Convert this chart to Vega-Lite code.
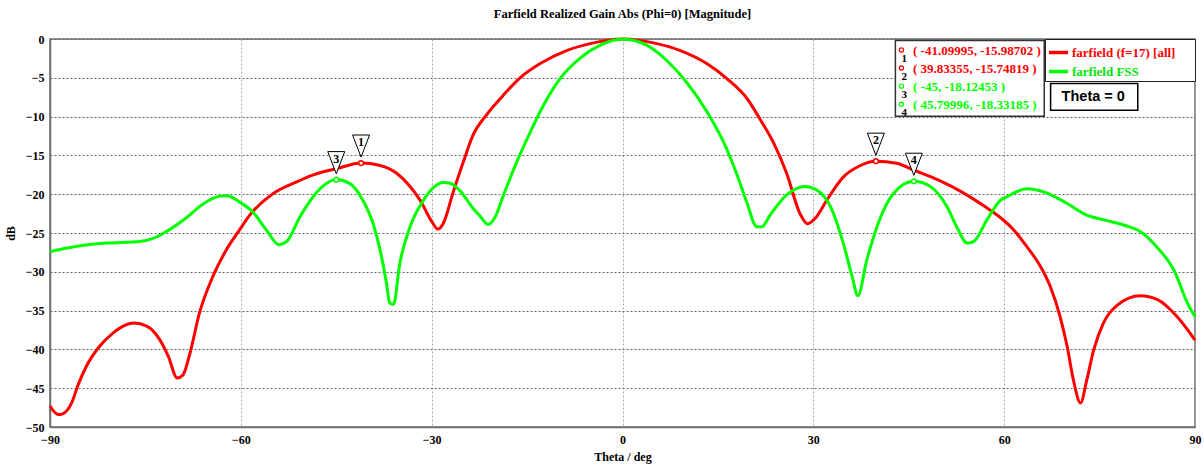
{
  "$schema": "https://vega.github.io/schema/vega-lite/v6.json",
  "width": 1145,
  "height": 388,
  "autosize": {"type": "none"},
  "padding": {"left": 50, "top": 39, "right": 9, "bottom": 39},
  "background": "white",
  "title": {
    "text": "Farfield Realized Gain Abs (Phi=0) [Magnitude]",
    "font": "Liberation Serif",
    "fontSize": 12.5,
    "fontWeight": "bold",
    "color": "#000000",
    "anchor": "middle",
    "frame": "group",
    "baseline": "bottom",
    "offset": 0
  },
  "config": {
    "view": {"stroke": "#6e6e6e", "strokeWidth": 1.5},
    "font": "Liberation Serif",
    "axisX": {"gridColor": "#aaaaaa", "gridDash": [2, 2], "gridWidth": 1},
    "axisY": {"gridColor": "#666666", "gridDash": [2, 2], "gridWidth": 1}
  },
  "datasets": {
    "curves": [
      {"series": "farfield (f=17) [all]", "theta": -90, "db": -47.3},
      {"series": "farfield (f=17) [all]", "theta": -88.7, "db": -48.4},
      {"series": "farfield (f=17) [all]", "theta": -88.0, "db": -48.3},
      {"series": "farfield (f=17) [all]", "theta": -86.6, "db": -46.9},
      {"series": "farfield (f=17) [all]", "theta": -85.6, "db": -44.6},
      {"series": "farfield (f=17) [all]", "theta": -84.3, "db": -42.2},
      {"series": "farfield (f=17) [all]", "theta": -82.2, "db": -39.6},
      {"series": "farfield (f=17) [all]", "theta": -80.1, "db": -37.9},
      {"series": "farfield (f=17) [all]", "theta": -78.5, "db": -37.0},
      {"series": "farfield (f=17) [all]", "theta": -76.8, "db": -36.6},
      {"series": "farfield (f=17) [all]", "theta": -74.8, "db": -37.0},
      {"series": "farfield (f=17) [all]", "theta": -72.7, "db": -38.8},
      {"series": "farfield (f=17) [all]", "theta": -71.4, "db": -40.9},
      {"series": "farfield (f=17) [all]", "theta": -70.0, "db": -43.7},
      {"series": "farfield (f=17) [all]", "theta": -69.1, "db": -43.3},
      {"series": "farfield (f=17) [all]", "theta": -68.0, "db": -40.5},
      {"series": "farfield (f=17) [all]", "theta": -66.5, "db": -35.3},
      {"series": "farfield (f=17) [all]", "theta": -64.4, "db": -30.6},
      {"series": "farfield (f=17) [all]", "theta": -62.3, "db": -27.2},
      {"series": "farfield (f=17) [all]", "theta": -60.2, "db": -24.6},
      {"series": "farfield (f=17) [all]", "theta": -58.6, "db": -22.7},
      {"series": "farfield (f=17) [all]", "theta": -54.9, "db": -19.9},
      {"series": "farfield (f=17) [all]", "theta": -51.2, "db": -18.4},
      {"series": "farfield (f=17) [all]", "theta": -48.6, "db": -17.5},
      {"series": "farfield (f=17) [all]", "theta": -44.9, "db": -16.7},
      {"series": "farfield (f=17) [all]", "theta": -41.1, "db": -15.99},
      {"series": "farfield (f=17) [all]", "theta": -38.1, "db": -16.3},
      {"series": "farfield (f=17) [all]", "theta": -35.5, "db": -17.3},
      {"series": "farfield (f=17) [all]", "theta": -33.4, "db": -19.0},
      {"series": "farfield (f=17) [all]", "theta": -31.8, "db": -20.8},
      {"series": "farfield (f=17) [all]", "theta": -30.0, "db": -23.5},
      {"series": "farfield (f=17) [all]", "theta": -29.0, "db": -24.5},
      {"series": "farfield (f=17) [all]", "theta": -28.2, "db": -23.8},
      {"series": "farfield (f=17) [all]", "theta": -26.6, "db": -19.7},
      {"series": "farfield (f=17) [all]", "theta": -25.0, "db": -15.8},
      {"series": "farfield (f=17) [all]", "theta": -23.5, "db": -12.4},
      {"series": "farfield (f=17) [all]", "theta": -21.4, "db": -9.8},
      {"series": "farfield (f=17) [all]", "theta": -18.8, "db": -7.3},
      {"series": "farfield (f=17) [all]", "theta": -16.1, "db": -5.0},
      {"series": "farfield (f=17) [all]", "theta": -13.0, "db": -3.2},
      {"series": "farfield (f=17) [all]", "theta": -8.8, "db": -1.5},
      {"series": "farfield (f=17) [all]", "theta": -5.1, "db": -0.6},
      {"series": "farfield (f=17) [all]", "theta": 0, "db": 0},
      {"series": "farfield (f=17) [all]", "theta": 5.4, "db": -0.6},
      {"series": "farfield (f=17) [all]", "theta": 9.1, "db": -1.5},
      {"series": "farfield (f=17) [all]", "theta": 13.3, "db": -3.2},
      {"series": "farfield (f=17) [all]", "theta": 16.4, "db": -5.1},
      {"series": "farfield (f=17) [all]", "theta": 19.6, "db": -7.7},
      {"series": "farfield (f=17) [all]", "theta": 21.6, "db": -10.3},
      {"series": "farfield (f=17) [all]", "theta": 23.7, "db": -13.3},
      {"series": "farfield (f=17) [all]", "theta": 25.8, "db": -17.3},
      {"series": "farfield (f=17) [all]", "theta": 27.9, "db": -22.5},
      {"series": "farfield (f=17) [all]", "theta": 29.1, "db": -23.8},
      {"series": "farfield (f=17) [all]", "theta": 30.3, "db": -23.1},
      {"series": "farfield (f=17) [all]", "theta": 32.1, "db": -20.8},
      {"series": "farfield (f=17) [all]", "theta": 34.7, "db": -17.8},
      {"series": "farfield (f=17) [all]", "theta": 37.4, "db": -16.3},
      {"series": "farfield (f=17) [all]", "theta": 39.8, "db": -15.75},
      {"series": "farfield (f=17) [all]", "theta": 43.1, "db": -16.0},
      {"series": "farfield (f=17) [all]", "theta": 45.8, "db": -16.9},
      {"series": "farfield (f=17) [all]", "theta": 49.7, "db": -18.2},
      {"series": "farfield (f=17) [all]", "theta": 53.5, "db": -19.8},
      {"series": "farfield (f=17) [all]", "theta": 56.8, "db": -21.5},
      {"series": "farfield (f=17) [all]", "theta": 59.4, "db": -23.0},
      {"series": "farfield (f=17) [all]", "theta": 61.5, "db": -24.6},
      {"series": "farfield (f=17) [all]", "theta": 63.6, "db": -26.8},
      {"series": "farfield (f=17) [all]", "theta": 65.7, "db": -29.3},
      {"series": "farfield (f=17) [all]", "theta": 67.3, "db": -32.0},
      {"series": "farfield (f=17) [all]", "theta": 68.8, "db": -35.8},
      {"series": "farfield (f=17) [all]", "theta": 69.9, "db": -39.6},
      {"series": "farfield (f=17) [all]", "theta": 70.9, "db": -44.0},
      {"series": "farfield (f=17) [all]", "theta": 72.0, "db": -46.9},
      {"series": "farfield (f=17) [all]", "theta": 73.0, "db": -43.9},
      {"series": "farfield (f=17) [all]", "theta": 74.1, "db": -40.0},
      {"series": "farfield (f=17) [all]", "theta": 75.6, "db": -36.6},
      {"series": "farfield (f=17) [all]", "theta": 77.8, "db": -34.3},
      {"series": "farfield (f=17) [all]", "theta": 81.4, "db": -33.1},
      {"series": "farfield (f=17) [all]", "theta": 84.1, "db": -33.6},
      {"series": "farfield (f=17) [all]", "theta": 87.2, "db": -35.8},
      {"series": "farfield (f=17) [all]", "theta": 90, "db": -38.8},
      {"series": "farfield FSS", "theta": -90, "db": -27.4},
      {"series": "farfield FSS", "theta": -86.4, "db": -26.8},
      {"series": "farfield FSS", "theta": -81.1, "db": -26.3},
      {"series": "farfield FSS", "theta": -75.9, "db": -26.1},
      {"series": "farfield FSS", "theta": -73.8, "db": -25.7},
      {"series": "farfield FSS", "theta": -71.7, "db": -24.8},
      {"series": "farfield FSS", "theta": -68.5, "db": -23.0},
      {"series": "farfield FSS", "theta": -66.0, "db": -21.3},
      {"series": "farfield FSS", "theta": -64.0, "db": -20.4},
      {"series": "farfield FSS", "theta": -62.5, "db": -20.2},
      {"series": "farfield FSS", "theta": -61.7, "db": -20.3},
      {"series": "farfield FSS", "theta": -60.2, "db": -21.0},
      {"series": "farfield FSS", "theta": -58.1, "db": -22.3},
      {"series": "farfield FSS", "theta": -56.0, "db": -24.6},
      {"series": "farfield FSS", "theta": -54.0, "db": -26.5},
      {"series": "farfield FSS", "theta": -52.8, "db": -26.1},
      {"series": "farfield FSS", "theta": -50.7, "db": -22.9},
      {"series": "farfield FSS", "theta": -48.6, "db": -20.3},
      {"series": "farfield FSS", "theta": -46.5, "db": -18.6},
      {"series": "farfield FSS", "theta": -45.0, "db": -18.12},
      {"series": "farfield FSS", "theta": -42.9, "db": -18.6},
      {"series": "farfield FSS", "theta": -40.8, "db": -20.8},
      {"series": "farfield FSS", "theta": -39.2, "db": -23.8},
      {"series": "farfield FSS", "theta": -38.1, "db": -27.2},
      {"series": "farfield FSS", "theta": -37.1, "db": -31.5},
      {"series": "farfield FSS", "theta": -36.6, "db": -34.0},
      {"series": "farfield FSS", "theta": -36.0, "db": -34.2},
      {"series": "farfield FSS", "theta": -35.0, "db": -28.9},
      {"series": "farfield FSS", "theta": -33.4, "db": -24.2},
      {"series": "farfield FSS", "theta": -31.3, "db": -20.8},
      {"series": "farfield FSS", "theta": -29.5, "db": -19.0},
      {"series": "farfield FSS", "theta": -28.2, "db": -18.5},
      {"series": "farfield FSS", "theta": -27.1, "db": -18.6},
      {"series": "farfield FSS", "theta": -25.5, "db": -19.6},
      {"series": "farfield FSS", "theta": -23.5, "db": -21.8},
      {"series": "farfield FSS", "theta": -22.4, "db": -22.8},
      {"series": "farfield FSS", "theta": -21.1, "db": -23.9},
      {"series": "farfield FSS", "theta": -20.0, "db": -22.9},
      {"series": "farfield FSS", "theta": -18.7, "db": -20.1},
      {"series": "farfield FSS", "theta": -16.6, "db": -15.8},
      {"series": "farfield FSS", "theta": -14.5, "db": -12.0},
      {"series": "farfield FSS", "theta": -12.4, "db": -8.5},
      {"series": "farfield FSS", "theta": -9.8, "db": -5.1},
      {"series": "farfield FSS", "theta": -6.7, "db": -2.5},
      {"series": "farfield FSS", "theta": -3.5, "db": -0.8},
      {"series": "farfield FSS", "theta": 0, "db": 0},
      {"series": "farfield FSS", "theta": 3.8, "db": -0.8},
      {"series": "farfield FSS", "theta": 7.0, "db": -2.8},
      {"series": "farfield FSS", "theta": 10.1, "db": -5.6},
      {"series": "farfield FSS", "theta": 13.3, "db": -9.4},
      {"series": "farfield FSS", "theta": 15.9, "db": -13.3},
      {"series": "farfield FSS", "theta": 18.0, "db": -17.5},
      {"series": "farfield FSS", "theta": 19.6, "db": -21.2},
      {"series": "farfield FSS", "theta": 21.1, "db": -24.2},
      {"series": "farfield FSS", "theta": 21.9, "db": -24.2},
      {"series": "farfield FSS", "theta": 23.2, "db": -22.7},
      {"series": "farfield FSS", "theta": 25.8, "db": -20.1},
      {"series": "farfield FSS", "theta": 28.7, "db": -19.0},
      {"series": "farfield FSS", "theta": 30.6, "db": -19.5},
      {"series": "farfield FSS", "theta": 32.7, "db": -21.6},
      {"series": "farfield FSS", "theta": 34.7, "db": -26.3},
      {"series": "farfield FSS", "theta": 36.1, "db": -30.6},
      {"series": "farfield FSS", "theta": 37.0, "db": -33.1},
      {"series": "farfield FSS", "theta": 38.4, "db": -28.5},
      {"series": "farfield FSS", "theta": 40.6, "db": -22.9},
      {"series": "farfield FSS", "theta": 42.6, "db": -19.9},
      {"series": "farfield FSS", "theta": 45.8, "db": -18.33},
      {"series": "farfield FSS", "theta": 48.4, "db": -19.0},
      {"series": "farfield FSS", "theta": 51.0, "db": -21.6},
      {"series": "farfield FSS", "theta": 52.6, "db": -24.3},
      {"series": "farfield FSS", "theta": 54.2, "db": -26.3},
      {"series": "farfield FSS", "theta": 55.2, "db": -26.1},
      {"series": "farfield FSS", "theta": 57.3, "db": -23.3},
      {"series": "farfield FSS", "theta": 59.4, "db": -20.8},
      {"series": "farfield FSS", "theta": 60.5, "db": -20.3},
      {"series": "farfield FSS", "theta": 63.6, "db": -19.3},
      {"series": "farfield FSS", "theta": 66.2, "db": -19.7},
      {"series": "farfield FSS", "theta": 69.9, "db": -21.2},
      {"series": "farfield FSS", "theta": 73.0, "db": -22.7},
      {"series": "farfield FSS", "theta": 76.2, "db": -23.4},
      {"series": "farfield FSS", "theta": 79.3, "db": -24.1},
      {"series": "farfield FSS", "theta": 81.4, "db": -24.8},
      {"series": "farfield FSS", "theta": 84.0, "db": -26.8},
      {"series": "farfield FSS", "theta": 86.7, "db": -29.8},
      {"series": "farfield FSS", "theta": 88.8, "db": -34.0},
      {"series": "farfield FSS", "theta": 90, "db": -35.8}
    ],
    "markers": [
      {"n": 1, "series": "farfield (f=17) [all]", "theta": -41.09995, "db": -15.98702, "label": "( -41.09995, -15.98702 )"},
      {"n": 2, "series": "farfield (f=17) [all]", "theta": 39.83355, "db": -15.74819, "label": "( 39.83355, -15.74819 )"},
      {"n": 3, "series": "farfield FSS", "theta": -45, "db": -18.12453, "label": "( -45, -18.12453 )"},
      {"n": 4, "series": "farfield FSS", "theta": 45.79996, "db": -18.33185, "label": "( 45.79996, -18.33185 )"}
    ]
  },
  "encoding": {
    "x": {
      "field": "theta", "type": "quantitative",
      "scale": {"domain": [-90, 90], "nice": false, "zero": false},
      "axis": {
        "values": [-90, -60, -30, 0, 30, 60, 90],
        "title": "Theta / deg",
        "titleFont": "Liberation Serif", "titleFontSize": 12, "titleFontWeight": "bold", "titleColor": "#000000",
        "titlePadding": 6,
        "labelFont": "Liberation Serif", "labelFontSize": 12, "labelFontWeight": "bold", "labelColor": "#000000",
        "labelPadding": 7, "ticks": false,
        "domainColor": "#6e6e6e", "domainWidth": 1.5,
        "labelFlush": false
      }
    },
    "y": {
      "field": "db", "type": "quantitative",
      "scale": {"domain": [-50, 0], "nice": false, "zero": false},
      "axis": {
        "values": [-50, -45, -40, -35, -30, -25, -20, -15, -10, -5, 0],
        "title": "dB",
        "titleFont": "Liberation Serif", "titleFontSize": 12, "titleFontWeight": "bold", "titleColor": "#000000",
        "titlePadding": 8,
        "labelFont": "Liberation Serif", "labelFontSize": 12, "labelFontWeight": "bold", "labelColor": "#000000",
        "labelPadding": 6, "ticks": false,
        "domainColor": "#6e6e6e", "domainWidth": 1.5
      }
    }
  },
  "layer": [
    {
      "data": {"name": "curves"},
      "mark": {"type": "line", "strokeWidth": 3, "interpolate": "monotone"},
      "encoding": {
        "color": {
          "field": "series", "type": "nominal",
          "scale": {"domain": ["farfield (f=17) [all]", "farfield FSS"], "range": ["#ff0000", "#00ff00"]},
          "legend": {
            "title": ".", "titleOrient": "right", "titleColor": "white", "titlePadding": 14,
            "titleFont": "Liberation Serif", "titleFontSize": 13,
            "orient": "top-right", "offset": 0, "padding": 2,
            "fillColor": "white", "strokeColor": "#222222",
            "symbolType": "stroke", "symbolSize": 361, "symbolStrokeWidth": 3.5,
            "labelFont": "Liberation Serif", "labelFontSize": 13, "labelFontWeight": "bold",
            "labelColor": {"expr": "datum.value === 'farfield FSS' ? '#00e600' : '#ff0000'"},
            "rowPadding": -2, "labelOffset": 2
          }
        }
      }
    },
    {
      "data": {"name": "markers"},
      "mark": {"type": "point", "shape": "circle", "filled": false, "fill": "white", "size": 22, "strokeWidth": 1.5, "opacity": 1},
      "encoding": {"color": {"field": "series", "type": "nominal", "legend": null}}
    },
    {
      "data": {"name": "markers"},
      "mark": {"type": "point", "shape": "M-1,-1.3L1,-1.3L0,1.3Z", "size": 289, "filled": true, "fill": "white", "stroke": "black", "strokeWidth": 1, "opacity": 1, "yOffset": -17}
    },
    {
      "data": {"name": "markers"},
      "mark": {"type": "text", "font": "Liberation Serif", "fontSize": 12, "fontWeight": "bold", "color": "black", "baseline": "middle", "align": "center", "yOffset": -21},
      "encoding": {"text": {"field": "n", "type": "nominal"}}
    },
    {
      "data": {"name": "markers"},
      "transform": [{"filter": "datum.n == 1"}],
      "mark": {"type": "rect", "fill": "white", "stroke": "#333333", "strokeWidth": 1.5},
      "encoding": {
        "x": {"datum": 42.9, "type": "quantitative"}, "x2": {"datum": 66.3},
        "y": {"datum": -0.19, "type": "quantitative"}, "y2": {"datum": -9.96}
      }
    },
    {
      "data": {"name": "markers"},
      "mark": {"type": "point", "shape": "circle", "filled": false, "fill": "white", "size": 18, "strokeWidth": 1.2, "opacity": 1, "yOffset": {"expr": "(datum.n - 1) * 18.1"}},
      "encoding": {
        "x": {"datum": 43.85, "type": "quantitative"}, "y": {"datum": -1.41, "type": "quantitative"},
        "color": {"field": "series", "type": "nominal", "legend": null}
      }
    },
    {
      "data": {"name": "markers"},
      "mark": {"type": "text", "font": "Liberation Serif", "fontSize": 11, "fontWeight": "bold", "color": "black", "baseline": "middle", "align": "center", "yOffset": {"expr": "(datum.n - 1) * 18.1"}},
      "encoding": {
        "x": {"datum": 44.3, "type": "quantitative"}, "y": {"datum": -2.57, "type": "quantitative"},
        "text": {"field": "n", "type": "nominal"}
      }
    },
    {
      "data": {"name": "markers"},
      "mark": {"type": "text", "font": "Liberation Serif", "fontSize": 13, "fontWeight": "bold", "baseline": "middle", "align": "left", "yOffset": {"expr": "(datum.n - 1) * 18.1"}},
      "encoding": {
        "x": {"datum": 45.67, "type": "quantitative"}, "y": {"datum": -1.57, "type": "quantitative"},
        "text": {"field": "label", "type": "nominal"},
        "color": {"field": "series", "type": "nominal", "legend": null}
      }
    },
    {
      "data": {"name": "markers"},
      "transform": [{"filter": "datum.n == 1"}],
      "mark": {"type": "rect", "fill": "white", "stroke": "#000000", "strokeWidth": 1.5},
      "encoding": {
        "x": {"datum": 67.3, "type": "quantitative"}, "x2": {"datum": 81.0},
        "y": {"datum": -5.72, "type": "quantitative"}, "y2": {"datum": -9.19}
      }
    },
    {
      "data": {"name": "markers"},
      "transform": [{"filter": "datum.n == 1"}],
      "mark": {"type": "text", "font": "Liberation Sans", "fontSize": 14.5, "fontWeight": "bold", "color": "black", "baseline": "middle", "align": "center", "text": "Theta = 0"},
      "encoding": {
        "x": {"datum": 74.0, "type": "quantitative"}, "y": {"datum": -7.45, "type": "quantitative"}
      }
    }
  ]
}
